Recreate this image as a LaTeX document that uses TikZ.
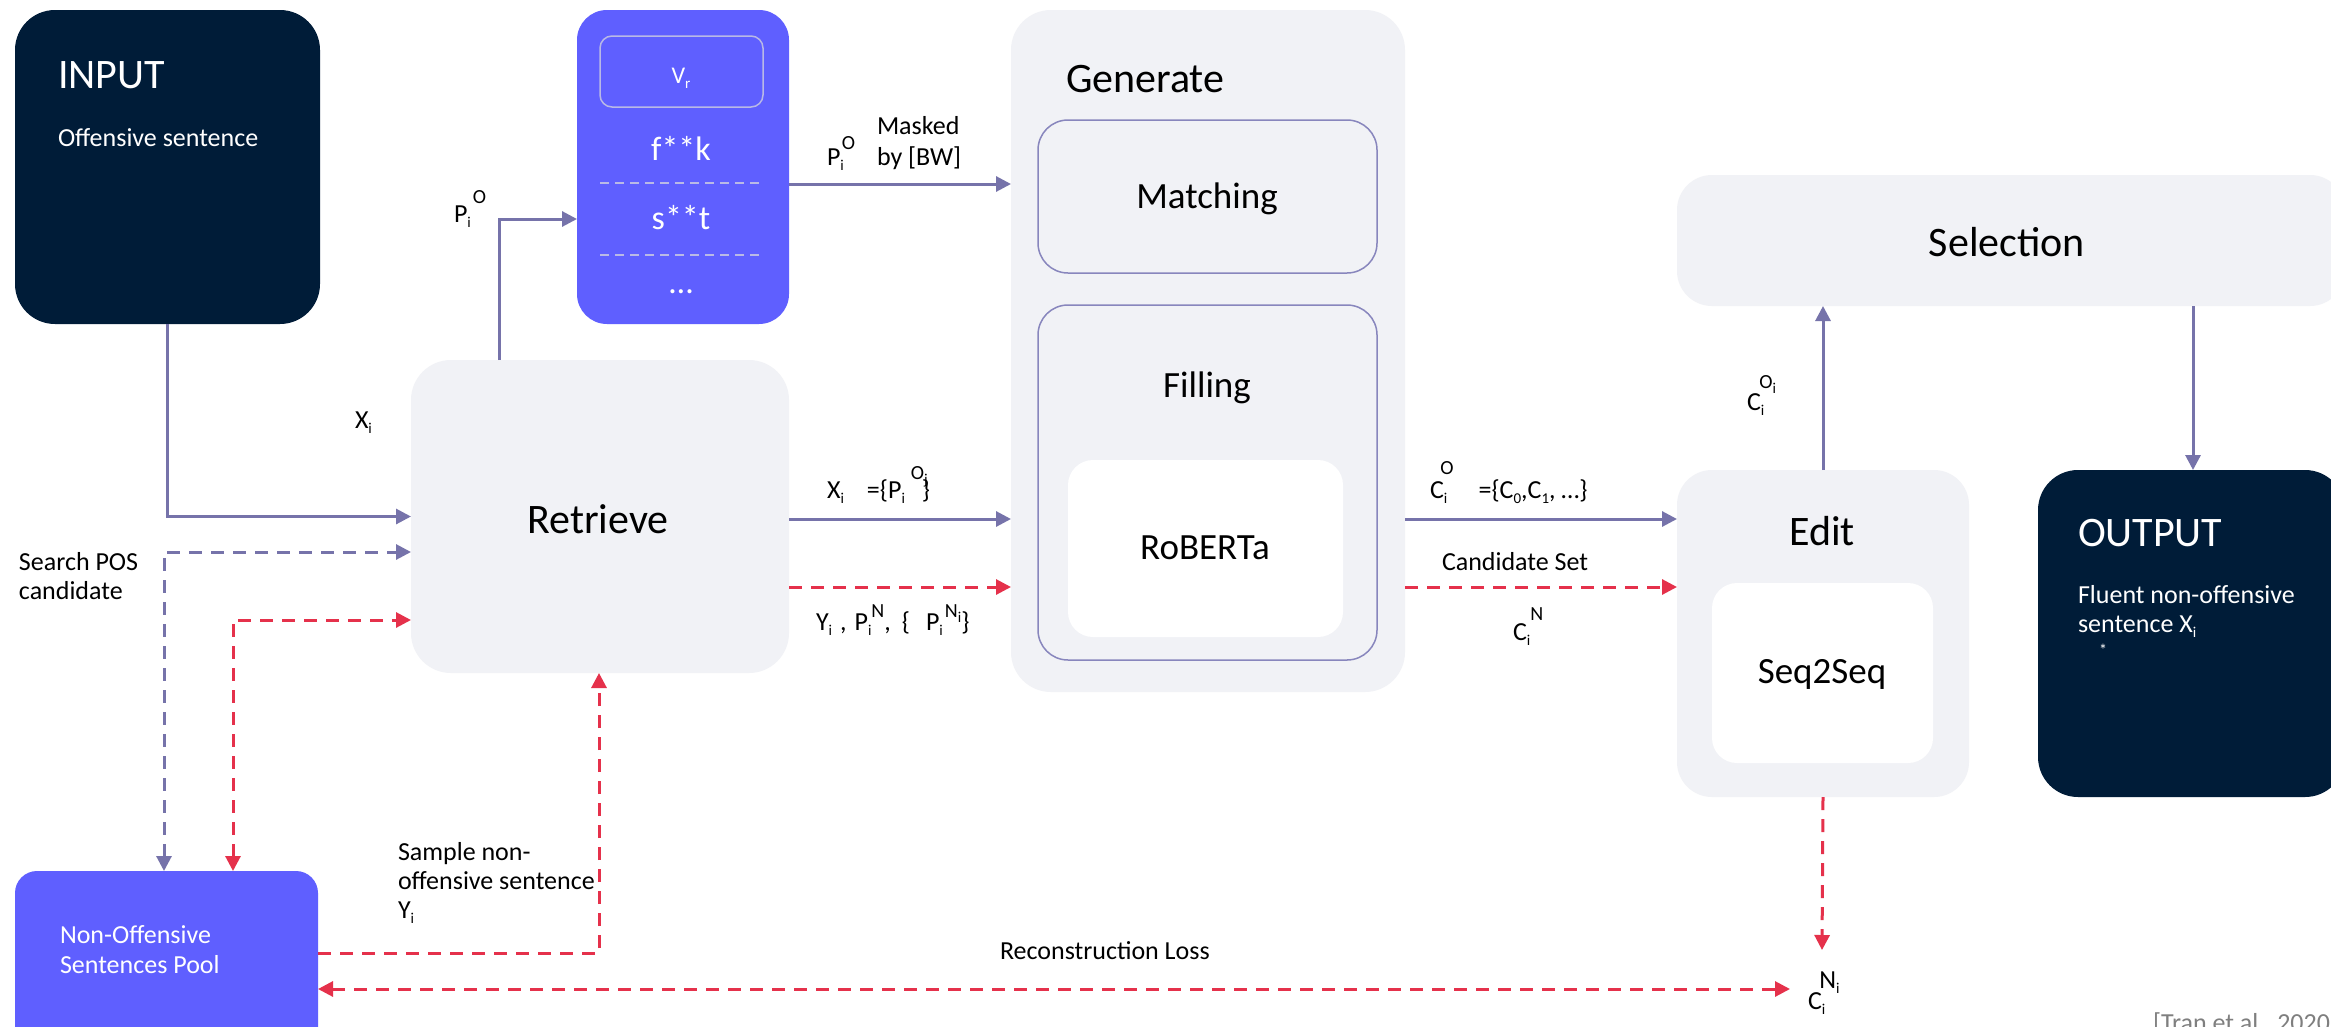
\documentclass[tikz,border=0pt]{standalone}
\usepackage{fontspec}
\setmainfont{Carlito}
\usetikzlibrary{arrows.meta}

\definecolor{navy}{HTML}{001C38}
\definecolor{vblue}{HTML}{5F5FFF}
\definecolor{panelgray}{HTML}{F1F2F6}
\definecolor{flow}{HTML}{7673AA}
\definecolor{loss}{HTML}{E5314B}
\definecolor{framecol}{HTML}{8886BD}
\definecolor{sepcol}{HTML}{B9B9E6}
\definecolor{citecol}{HTML}{7F7F7F}

\newcommand{\fs}[2]{\fontsize{#1}{#2}\selectfont}
\newcommand{\lbsub}[1]{\raisebox{-5pt}{\fs{15}{15}#1}}
\newcommand{\lbsup}[2]{\raisebox{#1}{\fs{20}{20}#2}}

\tikzset{
  every node/.style={inner sep=0pt, outer sep=0pt},
  darkbox/.style={fill=navy, rounded corners=40pt},
  bluebox/.style={fill=vblue, rounded corners=#1},
  greybox/.style={fill=panelgray, rounded corners=#1},
  framebox/.style={draw=framecol, line width=1.5pt, rounded corners=30pt},
  whitebox/.style={fill=white, rounded corners=25pt},
  tip/.style={-{Triangle[length=15pt,width=15pt]}},
  bothtips/.style={{Triangle[length=15pt,width=15pt]}-{Triangle[length=15pt,width=15pt]}},
  flowline/.style={draw=flow, line width=3pt, tip},
  searchline/.style={draw=flow, line width=3pt, dash pattern=on 13pt off 9pt, bothtips},
  lossline/.style={draw=loss, line width=3pt, dash pattern=on 13pt off 9pt, tip},
  lossboth/.style={draw=loss, line width=3pt, dash pattern=on 13pt off 9pt, bothtips},
  sepline/.style={draw=sepcol, line width=2pt, dash pattern=on 9pt off 6pt},
  lbl/.style={font=\fs{26}{30}, anchor=base west},
  whitelbl/.style={lbl, text=white},
  title/.style={font=\fs{42}{50}, anchor=base},
  inner/.style={font=\fs{37}{44}, anchor=base},
}

\begin{document}
\begin{tikzpicture}[x=1pt, y=-1pt]
\useasboundingbox (0,0) rectangle (2331,1026);
\fill[white] (0,0) rectangle (2331,1026);

% ---------- boxes ----------
\node[darkbox, minimum width=305pt, minimum height=314pt] (input) at (167.5,167) {};
\node[bluebox=30pt, minimum width=212pt, minimum height=314pt] (vr) at (683,167) {};
\node[draw=sepcol, line width=1.5pt, rounded corners=12pt, minimum width=163pt, minimum height=71pt] (vrhead) at (681.5,71.5) {};
\node[greybox=40pt, minimum width=378pt, minimum height=313pt] (retrieve) at (600,516.5) {};
\node[greybox=40pt, minimum width=394pt, minimum height=682pt] (generate) at (1208,351) {};
\node[framebox, minimum width=339pt, minimum height=153pt] (matching) at (1207.5,196.5) {};
\node[framebox, minimum width=339pt, minimum height=355pt] (filling) at (1207.5,482.5) {};
\node[whitebox, minimum width=275pt, minimum height=177pt] (roberta) at (1205.5,548.5) {};
\node[greybox=35pt, minimum width=668pt, minimum height=131pt] (selection) at (2011,240.5) {};
\node[greybox=35pt, minimum width=292pt, minimum height=327pt] (edit) at (1823,633.5) {};
\node[whitebox, minimum width=221pt, minimum height=180pt] (seqbox) at (1822.5,673) {};
\node[darkbox, minimum width=307pt, minimum height=327pt] (output) at (2191.5,633.5) {};
\node[bluebox=22pt, minimum width=303pt, minimum height=178pt] (pool) at (166.5,960) {};

% ---------- box texts ----------
\node[title, anchor=base west, text=white] (inputT) at (58,88) {INPUT};
\node[whitelbl] (inputS) at (58,146) {Offensive sentence};

\node[anchor=base, text=white, font=\fs{24}{24}] (vrT) at (681,83) {V\lbsub{r}};
\node[anchor=base, text=white, font=\fs{34}{34}] (w1) at (681,160) {f**k};
\draw[sepline] (600,183) -- (763,183);
\node[anchor=base, text=white, font=\fs{34}{34}] (w2) at (681,229) {s**t};
\draw[sepline] (600,255) -- (763,255);
\node[anchor=base, text=white, font=\fs{34}{34}] (w3) at (681,293) {…};

\node[title] (retrieveT) at (598,533) {Retrieve};
\node[title, anchor=base west] (generateT) at (1066,92) {Generate};
\node[inner] (matchingT) at (1207,208) {Matching};
\node[inner] (fillingT) at (1207,397) {Filling};
\node[inner] (robertaT) at (1205,559) {RoBERTa};
\node[title] (selectionT) at (2007,256) {Selection};
\node[title] (editT) at (1822,545) {Edit};
\node[inner] (seqT) at (1822,683) {Seq2Seq};

\node[title, anchor=base west, text=white] (outputT) at (2078,546) {OUTPUT};
\node[whitelbl] (outputS1) at (2078,603) {Fluent non-offensive};
\node[whitelbl] (outputS2) at (2078,632) {sentence X\lbsub{i}};
\node[anchor=base west, text=white, font=\fs{16}{16}] (outputStar) at (2099,655) {*};

\node[whitelbl] (poolT1) at (60,943) {Non-Offensive};
\node[whitelbl] (poolT2) at (60,973) {Sentences Pool};

% ---------- connector ends ----------
\node[lbl] (cni) at (1808,1009) {C\lbsub{i}\hspace{-6pt}\raisebox{21pt}{N\lbsub{i}}};
\coordinate (cniW) at (1790,989);
\coordinate (cniN) at (1822,950);

% ---------- connectors ----------
\draw[flowline] (input.south) |- (retrieve.west);
\draw[flowline] (retrieve.north -| 499,0) |- (vr.west |- 0,219);
\draw[flowline] (vr.east |- 0,184) -- (generate.west |- 0,184);
\draw[flowline] (retrieve.east |- 0,519) -- (generate.west |- 0,519);
\draw[lossline] (retrieve.east |- 0,587) -- (generate.west |- 0,587);
\draw[flowline] (generate.east |- 0,519) -- (edit.west |- 0,519);
\draw[lossline] (generate.east |- 0,587) -- (edit.west |- 0,587);
\draw[flowline] (edit.north) -- (selection.south -| edit.north);
\draw[flowline] (selection.south -| 2193,0) -- (output.north -| 2193,0);
\draw[searchline] (pool.north -| 164,0) |- (retrieve.west |- 0,552);
\draw[lossboth] (pool.north -| 233,0) |- (retrieve.west |- 0,620);
\draw[lossline] (pool.east |- 0,953) -| (retrieve.south -| 599,0);
\draw[lossboth] (pool.east |- 0,989) -- (cniW);
\draw[lossline] (edit.south) -- (cniN);

% ---------- connector labels ----------
\node[lbl] (lXin) at (355,428) {X\lbsub{i}};
\node[lbl] (lPo1) at (454,222) {P\lbsub{i}\hspace{2pt}\lbsup{19pt}{O}};
\node[lbl] (lPo2) at (827,165) {P\lbsub{i}\hspace{-2pt}\lbsup{16pt}{O}};
\node[lbl] (lMask1) at (877,134) {Masked};
\node[lbl] (lMask2) at (877,165) {by [BW]};
\node[lbl] (lXP) at (827,498) {X\lbsub{i}\hspace{23pt}=\{P\lbsub{i}\hspace{6pt}\rlap{\lbsup{19pt}{O\lbsub{j}}}\hspace{11pt}\}};
\node[lbl] (lYP) at (816,630) {Y\lbsub{i}\hspace{8pt},\hspace{8pt}P\lbsub{i}\lbsup{13pt}{N},\hspace{11pt}\{\hspace{16pt}P\lbsub{i}\hspace{2pt}\lbsup{13pt}{N\lbsub{i}}\}};
\node[lbl] (lCO) at (1430,498) {C\lbsub{i}\hspace{-7pt}\lbsup{24pt}{O}\hspace{25pt}=\{C\lbsub{0},C\lbsub{1}, …\}};
\node[lbl] (lCand) at (1442,570) {Candidate Set};
\node[lbl] (lCN) at (1513,640) {C\lbsub{i}\lbsup{20pt}{N}};
\node[lbl] (lCOi) at (1747,410) {C\lbsub{i}\hspace{-5pt}\lbsup{22pt}{O\lbsub{i}}};
\node[lbl] (lSearch1) at (19,570) {Search POS};
\node[lbl] (lSearch2) at (19,599) {candidate};
\node[lbl] (lSample1) at (398,860) {Sample non-};
\node[lbl] (lSample2) at (398,889) {offensive sentence};
\node[lbl] (lSample3) at (398,918) {Y\lbsub{i}};
\node[lbl] (lRecon) at (1000,959) {Reconstruction Loss};

\node[lbl, text=citecol] (cite) at (2153,1031) {[Tran et al., 2020]};
\end{tikzpicture}
\end{document}
